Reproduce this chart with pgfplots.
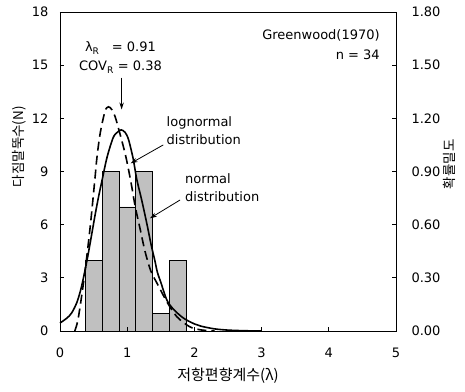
\documentclass[border=0pt]{standalone}
\usepackage{pgfplots}
\pgfplotsset{compat=1.18}
\usepackage{fontspec}
\setmainfont{DejaVu Sans}
\newfontfamily\kr{Noto Sans CJK KR}
\usetikzlibrary{arrows.meta}
\definecolor{barfill}{RGB}{192,192,192}
\begin{document}
\begin{tikzpicture}
\begin{axis}[
  scale only axis, width=336pt, height=319pt,
  xmin=0, xmax=5, ymin=0, ymax=18,
  xtick={0,1,2,3,4,5}, ytick={0,3,6,9,12,15,18},
  xtick pos=bottom, ytick pos=left, tick align=inside,
  major tick length=4pt,
  axis line style={line width=0.8pt},
  every tick/.style={black, line width=0.8pt},
  ticklabel style={font=\fontsize{13}{15}\selectfont},
  /pgf/number format/assume math mode=true,
  yticklabel style={xshift=-8pt},
  xticklabel style={yshift=-13pt},
  clip=false, axis on top]
\coordinate (bl) at (rel axis cs:0,0);
\coordinate (tr) at (rel axis cs:1,1);
% histogram (counts, bin width 0.25)
\addplot[ybar, bar width=0.25, bar shift=0pt, fill=barfill, draw=black, line width=0.6pt]
  coordinates {(0.5,4) (0.75,9) (1.0,7) (1.25,9) (1.5,1) (1.75,4)};
% normal distribution (solid), scaled to count axis
\addplot[black, line width=1.6pt, smooth, tension=0.5] coordinates {
 (0,0.45) (0.1,0.72) (0.17,1.0) (0.25,1.6) (0.32,2.5) (0.4,3.95) (0.46,5.2)
 (0.52,6.5) (0.57,7.5) (0.62,8.4) (0.7,9.8) (0.79,10.9) (0.85,11.2) (0.91,11.35)
 (0.97,11.2) (1.02,10.8) (1.09,9.7) (1.14,8.6) (1.215,7.4) (1.29,6.1) (1.36,4.8)
 (1.41,4.0) (1.45,3.3) (1.5,2.75) (1.59,1.75) (1.69,1.22) (1.84,0.72) (2.0,0.4)
 (2.1,0.27) (2.3,0.12) (2.5,0.05) (2.75,0.015) (3.0,0)};
% lognormal distribution (dashed)
\addplot[black, line width=1.6pt, dash pattern=on 9pt off 5pt, smooth, tension=0.5] coordinates {
 (0.22,0) (0.26,0.5) (0.3,1.4) (0.37,3.3) (0.45,5.9) (0.52,8.6) (0.55,9.8)
 (0.6,11.2) (0.67,12.4) (0.72,12.65) (0.77,12.5) (0.82,12.1) (0.89,11.16)
 (0.97,10.0) (1.02,9.1) (1.07,8.1) (1.12,7.0) (1.19,5.8) (1.265,4.5) (1.35,3.4)
 (1.45,2.65) (1.59,1.65) (1.74,0.8) (1.93,0.24) (2.1,0.06) (2.3,0)};
% annotations
\node[font=\fontsize{13}{19}\selectfont, align=center] at (axis cs:0.9,15.43)
  {λ\textsubscript{R}\ \ \ = 0.91\\COV\textsubscript{R} = 0.38};
\draw[line width=0.8pt, -{Stealth[length=7pt,width=4.5pt]}] (axis cs:0.917,14.3) -- (axis cs:0.917,12.5);
\node[font=\fontsize{13}{15}\selectfont, anchor=east] at (axis cs:4.81,16.65) {Greenwood(1970)};
\node[font=\fontsize{13}{15}\selectfont, anchor=east] at (axis cs:4.81,15.58) {n = 34};
\node[font=\fontsize{13}{18.3}\selectfont, align=left, anchor=west, inner sep=0pt] at (axis cs:1.585,11.29) {lognormal\\distribution};
\draw[line width=0.8pt, -{Stealth[length=7pt,width=4.5pt]}] (axis cs:1.537,10.5) -- (axis cs:1.052,9.46);
\node[font=\fontsize{13}{18.3}\selectfont, align=left, anchor=west, inner sep=0pt] at (axis cs:1.86,8.07) {normal\\distribution};
\draw[line width=0.8pt, -{Stealth[length=7pt,width=4.5pt]}] (axis cs:1.786,7.39) -- (axis cs:1.339,6.36);
% axis labels
\node[rotate=90, font=\kr\fontsize{13.5}{15}\selectfont] at (axis cs:-0.61,10.4) {다짐말뚝수(N)};
\node[rotate=90, font=\kr\fontsize{13.5}{15}\selectfont] at (axis cs:5.80,9.4) {확률밀도};
\node[font=\kr\fontsize{15}{17}\selectfont] at (axis cs:2.5,-2.54) {저항편향계수(λ)};
\end{axis}
\begin{axis}[
  scale only axis, width=336pt, height=319pt,
  xmin=0, xmax=5, ymin=0, ymax=1.8,
  axis x line=none, axis y line*=right,
  ytick={0,0.3,0.6,0.9,1.2,1.5,1.8},
  yticklabels={0.00,0.30,0.60,0.90,1.20,1.50,1.80},
  tick align=inside, major tick length=4pt,
  axis line style={line width=0.8pt},
  every tick/.style={black, line width=0.8pt},
  ticklabel style={font=\fontsize{13}{15}\selectfont},
  yticklabel style={xshift=12pt}]
\end{axis}
\pgfresetboundingbox
\path ([shift={(-60pt,-61pt)}]bl) rectangle ([shift={(69pt,12pt)}]tr);
\end{tikzpicture}
\end{document}
